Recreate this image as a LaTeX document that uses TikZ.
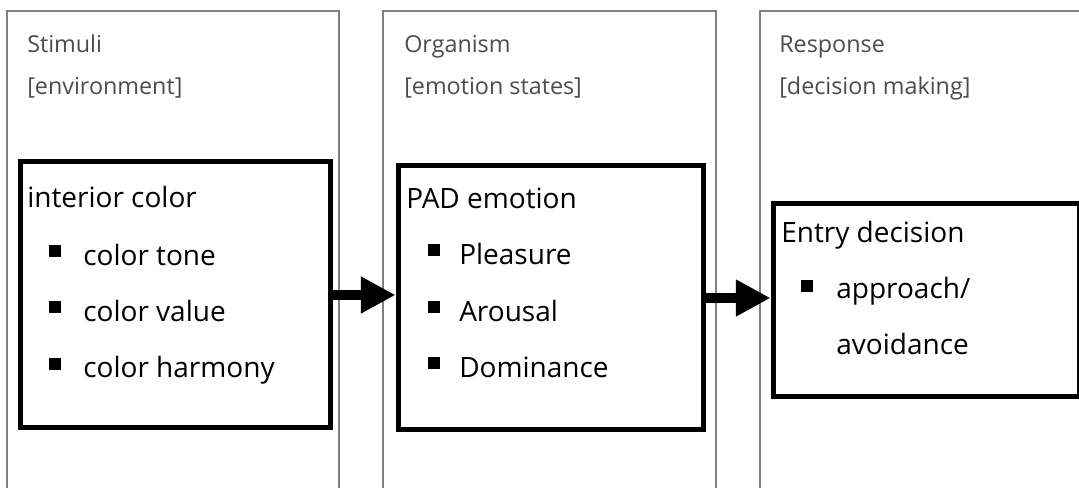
\documentclass[tikz,border=0pt]{standalone}
\usepackage{fontspec}
\setmainfont{Open Sans}
\usetikzlibrary{arrows.meta}
\begin{document}
\begin{tikzpicture}[x=0.75pt,y=-0.75pt,
  column/.style={draw=black!50, line width=1.1pt},
  framebox/.style={draw=black, line width=3.75pt, inner sep=0pt, anchor=north west},
  header/.style={anchor=base west, inner sep=0pt, text=black!70, font=\fontsize{17.5}{21}\selectfont},
  title/.style={anchor=base west, inner sep=0pt, font=\fontsize{21}{25}\selectfont},
  item/.style={anchor=base west, inner sep=0pt, font=\fontsize{21}{25}\selectfont},
  bullet/.style={fill=black, inner sep=0pt, minimum size=9pt},
  flow/.style={line width=8pt, -{Triangle[length=26pt, width=26pt]}}]
\useasboundingbox (0,0) rectangle (1079,488);

% the three stage columns
\draw[column] (7,488) |- (339,11) -- (339,488);
\draw[column] (383,488) |- (716,11) -- (716,488);
\draw[column] (760,488) |- (1085,11);

% column headers
\node[header] (h1a) at (27,53) {Stimuli};
\node[header] (h1b) at (27,95) {[environment]};
\node[header] (h2a) at (404,53) {Organism};
\node[header] (h2b) at (404,95) {[emotion states]};
\node[header] (h3a) at (779,53) {Response};
\node[header] (h3b) at (779,95) {[decision making]};

% content boxes
\node[framebox, minimum width=232.5pt, minimum height=199.5pt] (box1) at (17.5,159.5) {};
\node[framebox, minimum width=228.75pt, minimum height=198pt] (box2) at (395.5,163.5) {};
\node[framebox, minimum width=229.5pt, minimum height=144.75pt] (box3) at (770.5,201.5) {};

% stimuli
\node[title] (t1) at (27,208) {interior color};
\node[bullet] (b11) at (54.5,251) {};
\node[item] (i11) at (83,266) {color tone};
\node[bullet] (b12) at (54.5,307.5) {};
\node[item] (i12) at (83,322) {color value};
\node[bullet] (b13) at (54.5,364) {};
\node[item] (i13) at (83,378) {color harmony};

% organism
\node[title] (t2) at (406,209) {PAD emotion};
\node[bullet] (b21) at (433.5,250) {};
\node[item] (i21) at (459,265) {Pleasure};
\node[bullet] (b22) at (433.5,307) {};
\node[item] (i22) at (459,322) {Arousal};
\node[bullet] (b23) at (433.5,363) {};
\node[item] (i23) at (459,378) {Dominance};

% response
\node[title] (t3) at (781,243) {Entry decision};
\node[bullet] (b31) at (807,286) {};
\node[item] (i31) at (836,299) {approach/};
\node[item] (i32) at (836,355) {avoidance};

% flow arrows
\draw[flow] (box1.east) -- (box2.west |- box1.east);
\draw[flow] (box2.east) -- (box3.west |- box2.east);
\end{tikzpicture}
\end{document}
